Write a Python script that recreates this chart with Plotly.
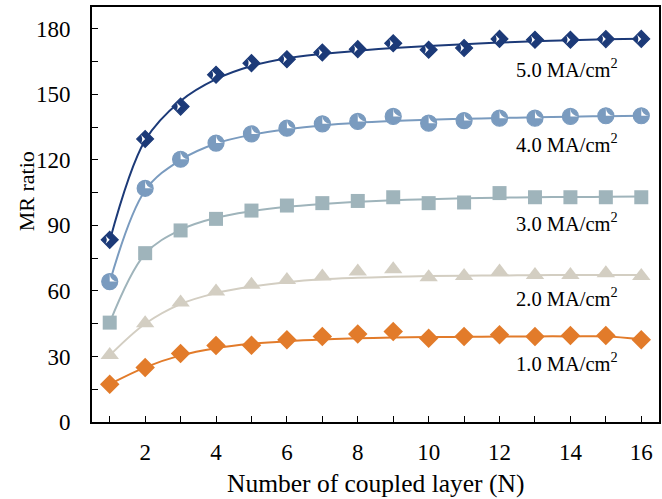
import plotly.graph_objects as go

N = list(range(1, 17))

# measured points
mr_1 = [17.3, 25.0, 31.4, 35.0, 35.1, 37.6, 39.1, 40.3, 41.4, 38.3, 39.1, 39.9, 39.1, 39.6, 39.6, 37.6]
mr_2 = [30.7, 45.2, 54.7, 59.7, 62.8, 65.0, 66.6, 68.9, 69.9, 66.3, 66.9, 68.9, 67.3, 67.3, 68.1, 66.9]
mr_3 = [45.5, 77.3, 87.7, 93.0, 96.8, 99.1, 100.2, 101.2, 102.9, 100.2, 100.5, 104.8, 102.9, 102.9, 102.9, 102.9]
mr_4 = [64.3, 107.0, 120.3, 127.7, 131.9, 134.5, 136.5, 137.6, 139.9, 136.8, 138.0, 139.1, 139.1, 139.9, 140.2, 140.2]
mr_5 = [83.4, 129.6, 144.4, 159.0, 164.3, 166.1, 169.2, 170.7, 173.4, 170.4, 171.2, 175.4, 175.0, 175.0, 175.3, 175.4]

# fitted curves
fit_1 = [17.3, 25.0, 30.5, 33.8, 35.8, 37.0, 37.8, 38.3, 38.7, 38.9, 39.0, 39.1, 39.2, 39.2, 39.2, 38.0]
fit_2 = [30.5, 45.0, 54.0, 59.0, 62.0, 64.0, 65.3, 66.0, 66.5, 66.8, 67.0, 67.1, 67.2, 67.3, 67.3, 67.3]
fit_3 = [45.5, 77.0, 88.0, 93.5, 96.5, 98.5, 99.8, 100.8, 101.5, 102.0, 102.4, 102.7, 102.9, 103.0, 103.1, 103.2]
fit_4 = [64.0, 106.0, 120.0, 127.5, 131.5, 134.0, 135.8, 137.0, 137.8, 138.4, 138.8, 139.2, 139.5, 139.8, 140.0, 140.2]
fit_5 = [83.0, 129.0, 147.0, 157.0, 163.0, 166.5, 168.5, 170.0, 171.2, 172.2, 173.0, 173.7, 174.3, 174.8, 175.2, 175.5]

labels = ["1.0 MA/cm<sup>2</sup>", "2.0 MA/cm<sup>2</sup>", "3.0 MA/cm<sup>2</sup>",
          "4.0 MA/cm<sup>2</sup>", "5.0 MA/cm<sup>2</sup>"]
label_y = [27.5, 57.3, 91.6, 127.8, 162.0]

C1, C2, C3, C4, C5 = "#e27b2a", "#d3cec2", "#9fb4bb", "#7a9bbf", "#1c3a78"

FONT = "Liberation Serif, Times New Roman, serif"
fig = go.Figure()

def curve(y, c):
    fig.add_trace(go.Scatter(x=N, y=y, mode="lines", line=dict(color=c, width=2, shape="spline", smoothing=1.0),
                             showlegend=False, hoverinfo="skip"))

for f, c in [(fit_1, C1), (fit_2, C2), (fit_3, C3), (fit_4, C4), (fit_5, C5)]:
    curve(f, c)

# 1.0 orange diamonds
fig.add_trace(go.Scatter(x=N, y=mr_1, mode="markers", marker=dict(symbol="diamond", size=15, color=C1), showlegend=False))
# 2.0 triangles
fig.add_trace(go.Scatter(x=N, y=mr_2, mode="markers", marker=dict(symbol="triangle-up", size=16, color=C2), showlegend=False))
# 3.0 squares
fig.add_trace(go.Scatter(x=N, y=mr_3, mode="markers", marker=dict(symbol="square", size=14, color=C3), showlegend=False))
# 4.0 circles with white quarter
fig.add_trace(go.Scatter(x=N, y=mr_4, mode="markers", marker=dict(symbol="circle", size=16, color=C4), showlegend=False))
fig.add_trace(go.Scatter(x=N, y=mr_4, mode="markers",
                         marker=dict(symbol="arrow-wide", size=8, angle=225, color="white", line=dict(width=0)),
                         showlegend=False, hoverinfo="skip"))
fig.add_trace(go.Scatter(x=N, y=mr_4, mode="markers",
                         marker=dict(symbol="circle-open", size=16, color=C4, line=dict(width=1.2)),
                         showlegend=False, hoverinfo="skip"))
# 5.0 navy diamonds with white left part
fig.add_trace(go.Scatter(x=N, y=mr_5, mode="markers", marker=dict(symbol="diamond", size=13, color=C5), showlegend=False))
fig.add_trace(go.Scatter(x=N, y=mr_5, mode="markers",
                         marker=dict(symbol="arrow-wide", size=7, angle=90, color="white", line=dict(width=0)),
                         showlegend=False, hoverinfo="skip"))
fig.add_trace(go.Scatter(x=N, y=mr_5, mode="markers",
                         marker=dict(symbol="diamond-open", size=13, color=C5, line=dict(width=1.2)),
                         showlegend=False, hoverinfo="skip"))

for t, yv in zip(labels, label_y):
    fig.add_annotation(x=15.4, y=yv, xref="x", yref="y", text=t, showarrow=False,
                       xanchor="right", yanchor="middle", font=dict(family=FONT, size=20.5, color="black"))

fig.add_annotation(x=-0.114, y=105.8, xref="paper", yref="y", text="MR ratio", textangle=-90,
                   showarrow=False, xanchor="center", yanchor="middle",
                   font=dict(family=FONT, size=22, color="black"))
fig.add_annotation(x=8.5, y=-0.149, xref="x", yref="paper", text="Number of coupled layer (N)",
                   showarrow=False, xanchor="center", yanchor="middle",
                   font=dict(family=FONT, size=25.5, color="black"))

axis_common = dict(showline=True, linewidth=2, linecolor="black", mirror=True, showgrid=False,
                   zeroline=False, ticks="inside", ticklen=6, tickwidth=1, tickcolor="black",
                   tickfont=dict(family=FONT, size=23, color="black"))
fig.update_xaxes(range=[0.5, 16.5], tick0=2, dtick=2,
                 minor=dict(dtick=1, tick0=1, ticks="inside", ticklen=6, tickcolor="black", showgrid=False),
                 ticklabelstandoff=8, **axis_common)
fig.update_yaxes(range=[0, 190], tick0=0, dtick=30,
                 minor=dict(dtick=15, tick0=0, ticks="inside", ticklen=6, tickcolor="black", showgrid=False),
                 ticklabelstandoff=15, **axis_common)

fig.update_layout(width=662, height=499, margin=dict(l=92, r=1, t=7, b=77),
                  paper_bgcolor="white", plot_bgcolor="white", showlegend=False)

fig.write_html("out.html")
